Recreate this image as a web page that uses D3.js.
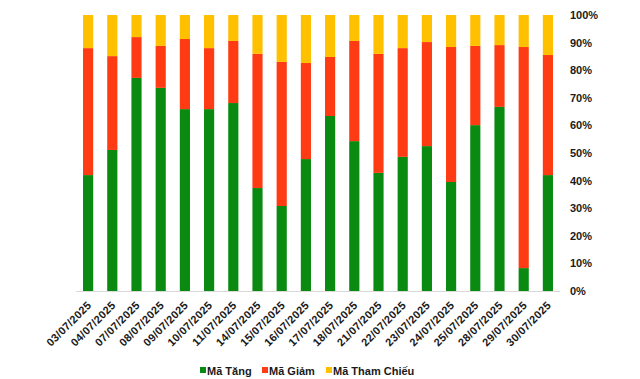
<!DOCTYPE html>
<html>
<head>
<meta charset="utf-8">
<script src="https://cdn.jsdelivr.net/npm/d3@7"></script>
<style>
  html, body { margin: 0; padding: 0; background: #fff; }
  svg { display: block; font-family: "Liberation Sans", Arial, sans-serif; }
</style>
</head>
<body>
<svg id="chart" width="640" height="379"></svg>
<script>
const categories = ["03/07/2025","04/07/2025","07/07/2025","08/07/2025","09/07/2025","10/07/2025","11/07/2025","14/07/2025","15/07/2025","16/07/2025","17/07/2025","18/07/2025","21/07/2025","22/07/2025","23/07/2025","24/07/2025","25/07/2025","28/07/2025","29/07/2025","30/07/2025"];
const maTang = [42.0, 51.1, 77.2, 73.6, 65.9, 65.9, 68.1, 37.3, 30.8, 47.8, 63.4, 54.3, 42.8, 48.6, 52.5, 39.5, 60.1, 66.7, 8.3, 42.0];
const maGiam = [46.0, 34.0, 14.8, 15.2, 25.4, 22.1, 22.5, 48.6, 52.2, 34.8, 21.4, 36.3, 43.1, 39.4, 37.7, 48.9, 28.7, 22.4, 80.1, 43.5];
const maThamChieu = [12.0, 14.9, 8.0, 11.2, 8.7, 12.0, 9.4, 14.1, 17.0, 17.4, 15.2, 9.4, 14.1, 12.0, 9.8, 11.6, 11.2, 10.9, 11.6, 14.5];
const seriesNames = ["Mã Tăng", "Mã Giảm", "Mã Tham Chiếu"];
const yTicks = [0, 10, 20, 30, 40, 50, 60, 70, 80, 90, 100];

const colors = ["#0B8A12", "#FF3B14", "#FFC000"];
const svg = d3.select("#chart");
const margin = { left: 76, right: 80, top: 15, bottom: 88 };
const W = 640, H = 379;

const rows = categories.map((c, i) => ({ cat: c, s0: maTang[i], s1: maGiam[i], s2: maThamChieu[i] }));
rows.forEach(r => { const t = r.s0 + r.s1 + r.s2; r.s0 = r.s0 / t * 100; r.s1 = r.s1 / t * 100; r.s2 = r.s2 / t * 100; });
const stack = d3.stack().keys(["s0", "s1", "s2"]);
const stacked = stack(rows);

const x = d3.scaleBand().domain(categories).range([margin.left, W - margin.right]).paddingInner(0.58).paddingOuter(0.29);
const y = d3.scaleLinear().domain([0, 100]).range([H - margin.bottom, margin.top]);

// bars
svg.append("g").selectAll("g").data(stacked).join("g")
  .attr("fill", (d, i) => colors[i])
  .selectAll("rect").data(d => d).join("rect")
  .attr("x", d => x(d.data.cat))
  .attr("width", x.bandwidth())
  .attr("y", d => y(d[1]))
  .attr("height", d => y(d[0]) - y(d[1]));

// baseline
svg.append("line")
  .attr("x1", margin.left).attr("x2", W - margin.right)
  .attr("y1", y(0) + 0.5).attr("y2", y(0) + 0.5)
  .attr("stroke", "#d9d9d9").attr("stroke-width", 1);

// right axis labels
const yAxis = d3.axisRight(y).tickValues(yTicks).tickFormat(d => d + "%").tickSize(0).tickPadding(0);
const ya = svg.append("g").attr("transform", `translate(570,0)`).call(yAxis);
ya.select(".domain").remove();
ya.selectAll("text").attr("font-size", 11).attr("font-weight", "bold").attr("fill", "#1a1a1a")
  .attr("font-family", "'Liberation Sans', Arial, sans-serif").attr("x", 0);

// x axis labels
const xAxis = d3.axisBottom(x).tickSize(0).tickPadding(0);
const xa = svg.append("g").attr("transform", `translate(0,${y(0)})`).call(xAxis);
xa.select(".domain").remove();
xa.selectAll("text")
  .attr("font-size", 11).attr("font-weight", "bold").attr("fill", "#1a1a1a")
  .attr("font-family", "'Liberation Sans', Arial, sans-serif")
  .attr("letter-spacing", "0.3px")
  .attr("text-anchor", "end")
  .attr("dy", null).attr("y", 0)
  .attr("transform", "translate(4,15) rotate(-45)");

// legend
const legendItems = [
  { name: seriesNames[0], color: colors[0], x: 200 },
  { name: seriesNames[1], color: colors[1], x: 262 },
  { name: seriesNames[2], color: colors[2], x: 326 }
];
const lg = svg.append("g");
legendItems.forEach(it => {
  lg.append("rect").attr("x", it.x).attr("y", 367).attr("width", 6).attr("height", 6).attr("fill", it.color);
  lg.append("text").attr("x", it.x + 7).attr("y", 374.5).text(it.name)
    .attr("font-size", 11).attr("font-weight", "bold").attr("fill", "#1a1a1a");
});
</script>
</body>
</html>
